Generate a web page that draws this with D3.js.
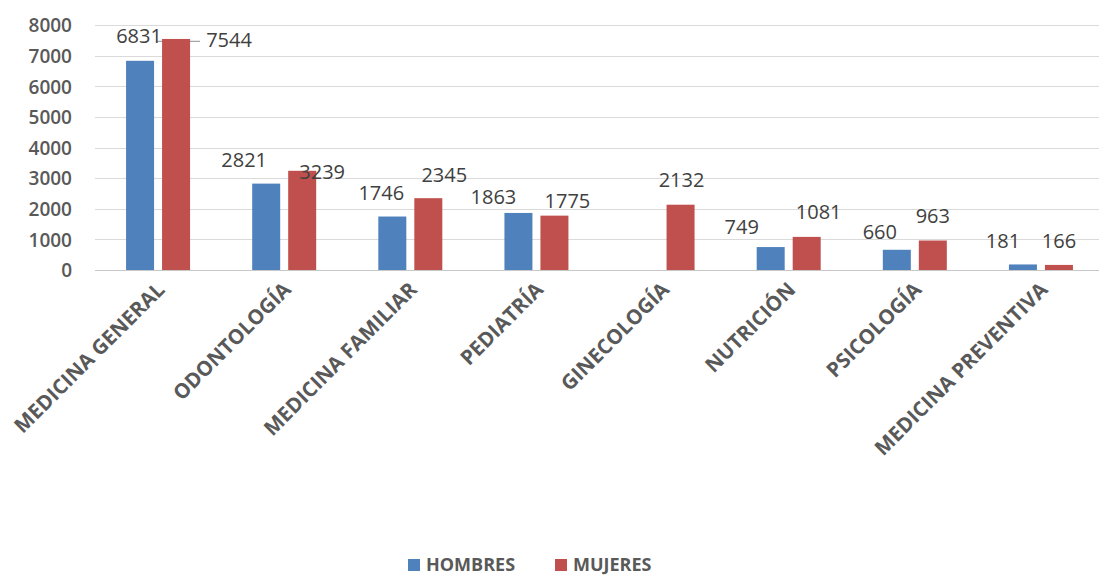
<!DOCTYPE html>
<html>
<head>
<meta charset="utf-8">
<script src="https://cdn.jsdelivr.net/npm/d3@7"></script>
<style>
  html, body { margin: 0; padding: 0; background: #ffffff; }
  svg { display: block; }
</style>
</head>
<body>
<svg id="chart" width="1099" height="578"></svg>
<script>
// ---- data ----
const categories = ["MEDICINA GENERAL", "ODONTOLOGÍA", "MEDICINA FAMILIAR", "PEDIATRÍA", "GINECOLOGÍA", "NUTRICIÓN", "PSICOLOGÍA", "MEDICINA PREVENTIVA"];
const seriesNames = ["HOMBRES", "MUJERES"];
const hombres = [6831, 2821, 1746, 1863, null, 749, 660, 181];
const mujeres = [7544, 3239, 2345, 1775, 2132, 1081, 963, 166];
const yTicks = [0, 1000, 2000, 3000, 4000, 5000, 6000, 7000, 8000];

// label nudges (relative to bar centre / bar top), as placed in the original
const hombresLabelDx = [-1, -22, -11, -25, 0, -29, -17, -20];
const hombresLabelDy = [-25, -24, -24, -16, 0, -20, -18, -24];
const mujeresLabelDx = [53, 20, 16, 13, 1, 12, 0, 0];
const mujeresLabelDy = [1, 1, -23, -15, -25, -25, -25, -24];

const colors = { HOMBRES: "#4f81bd", MUJERES: "#c0504d" };
const FONT = "'Open Sans', 'DejaVu Sans', sans-serif";

const svg = d3.select("#chart");

const x0 = d3.scaleBand().domain(categories).range([95, 1104]).paddingInner(0).paddingOuter(0);
const x1 = d3.scaleBand().domain(seriesNames).range([-32, 32]).paddingInner(8 / 36).paddingOuter(0);
const y = d3.scaleLinear().domain([0, 8000]).range([270, 25]);

// gridlines
svg.append("g").selectAll("line").data(yTicks).join("line")
  .attr("x1", 95).attr("x2", 1104)
  .attr("y1", d => Math.round(y(d)) + 0.5).attr("y2", d => Math.round(y(d)) + 0.5)
  .attr("stroke", d => d === 0 ? "#c8c8c8" : "#dadada").attr("stroke-width", 1.2);

// y axis labels
const yAxis = d3.axisLeft(y).tickValues(yTicks).tickSize(0).tickPadding(0).tickFormat(d3.format("d"));
const yg = svg.append("g").attr("transform", "translate(72,0)").call(yAxis);
yg.select(".domain").remove();
yg.selectAll("text").attr("font-family", FONT).attr("font-size", 19).attr("font-weight", 600)
  .attr("fill", "#595959").attr("dy", "0.36em");

const rows = categories.map((c, i) => ({ c, i, HOMBRES: hombres[i], MUJERES: mujeres[i] }));
const cx = (c, s) => x0(c) + x0.bandwidth() / 2 + x1(s) + x1.bandwidth() / 2;

// leader line for the first MUJERES label
{
  const c = categories[0];
  const yl = y(mujeres[0]) + 2.5;
  svg.append("line")
    .attr("x1", cx(c, "HOMBRES") + 17).attr("x2", cx(c, "MUJERES") + mujeresLabelDx[0] - 29)
    .attr("y1", yl).attr("y2", yl)
    .attr("stroke", "#a6a6a6").attr("stroke-width", 1.2);
}

// bars
seriesNames.forEach(s => {
  svg.append("g").selectAll("rect").data(rows.filter(r => r[s] != null)).join("rect")
    .attr("x", r => x0(r.c) + x0.bandwidth() / 2 + x1(s))
    .attr("width", x1.bandwidth())
    .attr("y", r => y(r[s]))
    .attr("height", r => y(0) - y(r[s]))
    .attr("fill", colors[s]);
});

// data labels
const labelSets = [
  { s: "HOMBRES", vals: hombres, dx: hombresLabelDx, dy: hombresLabelDy },
  { s: "MUJERES", vals: mujeres, dx: mujeresLabelDx, dy: mujeresLabelDy }
];
labelSets.forEach(L => {
  svg.append("g").selectAll("text").data(rows.filter(r => L.vals[r.i] != null)).join("text")
    .attr("x", r => cx(r.c, L.s) + L.dx[r.i])
    .attr("y", r => y(L.vals[r.i]) + L.dy[r.i])
    .attr("dy", "0.36em")
    .attr("text-anchor", "middle")
    .attr("font-family", FONT).attr("font-size", 20)
    .attr("fill", "#404040")
    .text(r => L.vals[r.i]);
});

// x axis category labels (rotated)
svg.append("g").selectAll("text").data(categories).join("text")
  .attr("transform", c => `translate(${x0(c) + x0.bandwidth() / 2 + 8},${291}) rotate(-45)`)
  .attr("text-anchor", "end")
  .attr("font-family", FONT).attr("font-size", 20.5).attr("font-weight", 700)
  .attr("fill", "#595959")
  .text(c => c);

// legend
const legendX = [408, 555];
const lg = svg.append("g");
seriesNames.forEach((s, i) => {
  lg.append("rect").attr("x", legendX[i]).attr("y", 559).attr("width", 12).attr("height", 12).attr("fill", colors[s]);
  lg.append("text").attr("x", legendX[i] + 18).attr("y", 571)
    .attr("font-family", FONT).attr("font-size", 18).attr("font-weight", 700)
    .attr("fill", "#595959").text(s);
});
</script>
</body>
</html>
